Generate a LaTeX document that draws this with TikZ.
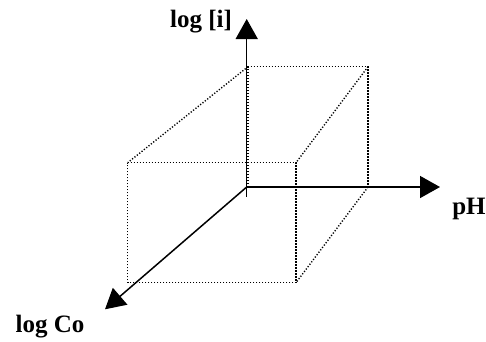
\documentclass[tikz,border=0pt]{standalone}
\usepackage{fontspec}
\setmainfont{Liberation Serif}
\usetikzlibrary{arrows.meta}
\begin{document}
\begin{tikzpicture}[x=1pt, y=-1pt,
    axis/.style={line width=1.5pt, -{Triangle[length=20pt,width=22pt]}},
    edge/.style={line width=1.4pt, dash pattern=on 1.2pt off 1.8pt},
    lbl/.style={font=\fontsize{25}{28}\selectfont\bfseries, inner sep=0pt}
]
\useasboundingbox (0,0) rectangle (486,341);

% --- box corners ---
\coordinate (o)   at (246.7,187);
\coordinate (bbl) at (248,187);
\coordinate (btl) at (248,66.7);
\coordinate (btr) at (368,66.7);
\coordinate (bbr) at (368,187);
\coordinate (ftl) at (127.7,162.7);
\coordinate (ftr) at (296,162.7);
\coordinate (fbr) at (296,282.7);
\coordinate (fbl) at (127.7,282.7);

% --- dotted box ---
\draw[edge] (bbl) -- (btl) -- (btr) -- (bbr);
\draw[edge] (ftl) -- (ftr) -- (fbr) -- (fbl) -- cycle;
\draw[edge] (btl) -- (ftl);
\draw[edge] (btr) -- (ftr);
\draw[edge] (bbr) -- (fbr);

% --- axes ---
\coordinate (tick) at (246.7,196.5);
\coordinate (zend) at (246.7,19);
\coordinate (xend) at (440,187);
\coordinate (yend) at (105,309.3);
\draw[axis] (tick) -- (zend);
\draw[axis] (o) -- (xend);
\draw[axis] (o) -- (yend);

% --- labels ---
\node[lbl] (logi)  at (201,22)  {log [i]};
\node[lbl] (ph)    at (469,209) {pH};
\node[lbl] (logco) at (50,327)  {log Co};

\end{tikzpicture}
\end{document}
